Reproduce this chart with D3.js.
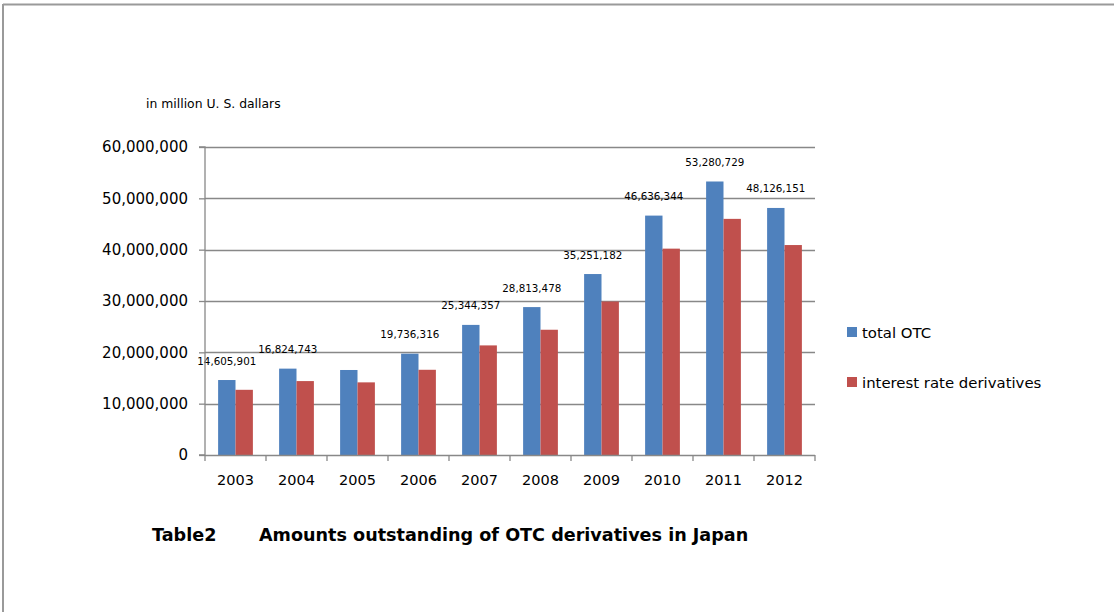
<!DOCTYPE html>
<html><head><meta charset="utf-8">
<script src="https://cdn.jsdelivr.net/npm/d3@7/dist/d3.min.js"></script>
<style>
html,body{margin:0;padding:0;background:#fff;}
svg{display:block;}
text{font-family:"DejaVu Sans", sans-serif;fill:#000;}
</style></head>
<body>
<script>
const years = ["2003","2004","2005","2006","2007","2008","2009","2010","2011","2012"];
const totalOTC = [14605901,16824743,16560000,19736316,25344357,28813478,35251182,46636344,53280729,48126151];
const interestRate = [12700000,14400000,14150000,16600000,21350000,24400000,29900000,40200000,46000000,40900000];
const labelShown = [true,true,false,true,true,true,true,true,true,true];
const yTicks = [0,10000000,20000000,30000000,40000000,50000000,60000000];
const seriesNames = ["total OTC","interest rate derivatives"];
const colors = ["#4F81BD","#C0504D"];

const W=1114,H=612;
const svg=d3.select("body").append("svg").attr("width",W).attr("height",H);

// frame
svg.append("line").attr("x1",3).attr("x2",W).attr("y1",4.5).attr("y2",4.5).attr("stroke","#9a9a9a").attr("stroke-width",2);
svg.append("line").attr("x1",3).attr("x2",3).attr("y1",4).attr("y2",H).attr("stroke","#9a9a9a").attr("stroke-width",2);

const L=205,R=815,T=147,B=455;
const x=d3.scaleBand().domain(years).range([L,R]).paddingInner(0).paddingOuter(0);
const y=d3.scaleLinear().domain([0,60000000]).range([B,T]);

// gridlines
svg.append("g").selectAll("line").data(yTicks.slice(1)).join("line")
 .attr("x1",L).attr("x2",R).attr("y1",d=>Math.round(y(d))+0.5).attr("y2",d=>Math.round(y(d))+0.5)
 .attr("stroke","#888").attr("stroke-width",1.3);

// bars
const groupW=x.bandwidth()*0.57;
const barW=groupW/2;
const data=years.map((yr,i)=>({yr,vals:[totalOTC[i],interestRate[i]],show:labelShown[i]}));
const g=svg.append("g");
data.forEach(d=>{
  const cx=x(d.yr)+x.bandwidth()/2;
  d.vals.forEach((v,j)=>{
    g.append("rect").attr("x",cx-groupW/2+j*barW).attr("y",y(v)).attr("width",barW).attr("height",B-y(v)).attr("fill",colors[j]);
  });
  if(d.show){
    g.append("text").attr("x",cx-barW/2).attr("y",y(d.vals[0])-15.5).attr("text-anchor","middle")
     .attr("font-size",10.3).text(d3.format(",")(d.vals[0]));
  }
});

// y axis
const yAxis=d3.axisLeft(y).tickValues(yTicks).tickFormat(d3.format(",")).tickSize(6).tickPadding(11);
const ya=svg.append("g").attr("transform",`translate(${L},0)`).call(yAxis);
ya.select(".domain").attr("stroke","#888").attr("stroke-width",1.3).attr("d",`M-6,${T}H0V${B}H-6`);
ya.selectAll(".tick line").attr("stroke","#888").attr("stroke-width",1.3);
ya.selectAll(".tick text").attr("font-size",15).attr("font-family","DejaVu Sans, sans-serif").attr("fill","#000");

// x axis
const xa=svg.append("g").attr("transform",`translate(0,${B})`);
xa.append("line").attr("x1",L).attr("x2",R).attr("y1",0.5).attr("y2",0.5).attr("stroke","#888").attr("stroke-width",1.3);
const bounds=years.map(d=>x(d)).concat([R]);
xa.selectAll("line.t").data(bounds).join("line").attr("class","t")
 .attr("x1",d=>d).attr("x2",d=>d).attr("y1",0).attr("y2",6).attr("stroke","#888").attr("stroke-width",1.3);
xa.selectAll("text").data(years).join("text")
 .attr("x",d=>x(d)+x.bandwidth()/2).attr("y",29.5).attr("text-anchor","middle").attr("font-size",14.5).text(d=>d);

// unit label
svg.append("text").attr("x",146).attr("y",108).attr("font-size",12.4).text("in million U. S. dallars");

// legend
const lg=svg.append("g");
seriesNames.forEach((n,i)=>{
  const yy=327+i*50;
  lg.append("rect").attr("x",847).attr("y",yy).attr("width",10).attr("height",10).attr("fill",colors[i]);
  lg.append("text").attr("x",862).attr("y",yy+10.5).attr("font-size",14.9).text(n);
});

// title
svg.append("text").attr("x",152).attr("y",541).attr("font-size",17.6).attr("font-weight","bold").text("Table2");
svg.append("text").attr("x",259).attr("y",541).attr("font-size",17.6).attr("font-weight","bold").text("Amounts outstanding of OTC derivatives in Japan");
</script>
</body></html>
